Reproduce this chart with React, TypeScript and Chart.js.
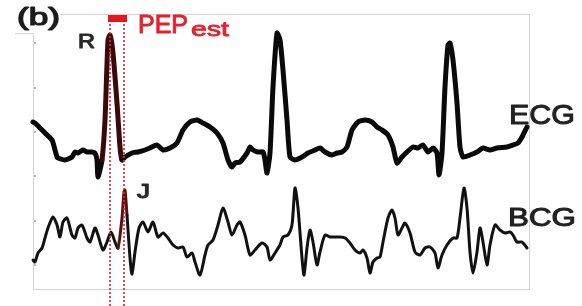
import React, { useEffect, useRef } from "react";
import { Chart, registerables } from "chart.js";
Chart.register(...registerables);

// ECG trace (time in samples, amplitude in a.u.)
const ecgTime = [0,2,12,19,22,24,25,32,39,42,45,50,54,59,62,64,65,69,72,75,77,80,84,87,89,92,99,105,112,117,124,130,137,144,150,157,164,170,177,184,190,195,199,202,207,214,217,220,225,230,232,234,237,240,244,247,250,254,257,262,269,275,282,287,292,299,304,309,314,319,325,332,339,344,349,355,360,364,369,374,380,385,390,395,400,404,406,409,412,415,417,420,424,427,430,437,444,450,457,464,474,480,485,489,494];
const ecgValue = [168,167,157,150,140,133,132,130,133,138,137,140,138,138,137,130,113,130,170,250,255,237,187,143,130,133,137,138,140,142,145,140,142,147,160,168,170,167,163,157,147,130,123,127,128,137,143,140,138,138,130,117,137,203,257,250,220,170,133,130,133,137,140,142,138,135,137,138,143,160,168,170,168,163,160,155,143,127,133,138,143,142,145,138,142,137,115,137,203,245,247,230,187,143,133,135,138,142,140,142,143,145,147,153,163];

// BCG trace
const bcgTime = [0,2,5,9,12,15,20,24,27,30,34,39,42,45,49,54,57,62,65,70,74,78,82,85,89,91,92,94,97,99,102,106,110,115,120,125,130,135,140,145,150,154,159,162,167,172,175,180,185,190,195,199,204,207,212,217,222,229,234,237,242,247,250,255,259,262,265,269,271,274,277,280,284,287,292,297,302,307,312,317,322,327,330,334,337,340,344,347,350,355,359,362,365,369,372,377,382,387,392,397,402,405,409,414,420,424,427,431,434,437,440,444,447,450,454,457,462,467,472,477,480,484,489,494];
const bcgValue = [30,28,37,42,52,62,73,65,53,68,72,55,52,62,65,52,48,62,55,40,48,58,48,42,72,98,100,75,32,16,38,62,68,58,68,53,57,52,45,42,43,33,37,28,15,35,45,50,65,82,68,55,65,68,55,35,40,47,43,30,37,45,53,55,65,102,82,32,15,42,60,48,25,38,55,53,53,53,52,47,40,37,40,32,17,28,32,33,48,72,80,72,55,62,67,57,38,35,42,43,37,22,35,45,52,52,72,102,82,38,17,38,62,48,25,45,65,60,57,58,55,48,48,42];

// PEP estimate markers: R peak time and J peak time
const rPeakTime = 77;
const jPeakTime = 91;

// faint tick marks on left border (a.u.)
const leftTicks = [247, 202, 158, 114, 69, 25];

const FONT = '"Liberation Sans", Arial, sans-serif';

function drawLabel(ctx: CanvasRenderingContext2D, text: string, left: number, baseline: number, size: number, width: number, color: string, thick: number) {
  ctx.save();
  ctx.font = `${size}px ${FONT}`;
  const w = ctx.measureText(text).width;
  ctx.translate(left, baseline);
  ctx.scale(width / w, 1);
  ctx.fillStyle = color;
  ctx.strokeStyle = color;
  ctx.lineWidth = thick;
  ctx.lineJoin = "round";
  ctx.textBaseline = "alphabetic";
  ctx.textAlign = "left";
  ctx.fillText(text, 0, 0);
  if (thick > 0) ctx.strokeText(text, 0, 0);
  ctx.restore();
}

const framePlugin = {
  id: "frame",
  beforeDatasetsDraw(chart: any) {
    const ctx = chart.ctx;
    const { left, right, top, bottom } = chart.chartArea;
    ctx.save();
    ctx.strokeStyle = "#d4d4d4";
    ctx.lineWidth = 1;
    ctx.beginPath();
    ctx.moveTo(60, top + 0.5);
    ctx.lineTo(right - 0.5, top + 0.5);
    ctx.lineTo(right - 0.5, bottom - 0.5);
    ctx.lineTo(left + 0.5, bottom - 0.5);
    ctx.lineTo(left + 0.5, 33);
    ctx.moveTo(15, 33.5);
    ctx.lineTo(left + 0.5, 33.5);
    ctx.stroke();
    const ys = chart.scales.y;
    ctx.fillStyle = "#b8b8b8";
    leftTicks.forEach((v) => {
      const py = ys.getPixelForValue(v);
      ctx.fillRect(left + 1, py - 1, 2, 2);
    });
    ctx.restore();
  },
  afterDatasetsDraw(chart: any) {
    const ctx = chart.ctx;
    const xs = chart.scales.x;
    const x1 = xs.getPixelForValue(rPeakTime);
    const x2 = xs.getPixelForValue(jPeakTime);
    ctx.save();
    ctx.strokeStyle = "rgba(232,40,55,0.85)";
    ctx.lineWidth = 2;
    ctx.setLineDash([2, 2]);
    [x1, x2].forEach((x) => {
      ctx.beginPath();
      ctx.moveTo(x, 20);
      ctx.lineTo(x, chart.height);
      ctx.stroke();
    });
    ctx.setLineDash([]);
    ctx.fillStyle = "#e8141e";
    ctx.fillRect(x1 - 2, 15, x2 - x1 + 5, 7);
    ctx.restore();
  },
  afterDraw(chart: any) {
    const ctx = chart.ctx;
    drawLabel(ctx, "(b)", 17, 25, 23, 43, "#1c1c1c", 1.2);
    drawLabel(ctx, "R", 78, 48, 21, 17, "#2a2a2a", 1.2);
    drawLabel(ctx, "PEP", 138, 33, 25, 50, "#e8202a", 0.9);
    drawLabel(ctx, "est", 191, 36, 20, 38, "#e8202a", 0.8);
    drawLabel(ctx, "J", 137, 198, 21, 13, "#2a2a2a", 1.2);
    drawLabel(ctx, "ECG", 509, 124, 28, 66, "#222222", 1);
    drawLabel(ctx, "BCG", 508, 226, 25, 68, "#222222", 1);
  },
};

export default function App() {
  const ref = useRef<HTMLCanvasElement | null>(null);
  useEffect(() => {
    if (!ref.current) return;
    const ecgData = ecgTime.map((t, i) => ({ x: t, y: ecgValue[i] }));
    const bcgData = bcgTime.map((t, i) => ({ x: t, y: bcgValue[i] }));
    const chart = new Chart(ref.current, {
      type: "line",
      data: {
        datasets: [
          {
            label: "ECG",
            data: ecgData,
            borderColor: "#0a0a0a",
            borderWidth: 5,
            pointRadius: 0,
            tension: 0.2,
            borderJoinStyle: "round",
            borderCapStyle: "round",
            clip: false,
            segment: {
              borderColor: (c: any) =>
                c.p0.parsed.x >= 69 && c.p1.parsed.x <= 89 ? "#3a0a0a" : undefined,
            },
          } as any,
          {
            label: "BCG",
            data: bcgData,
            borderColor: "#111111",
            borderWidth: 3,
            pointRadius: 0,
            tension: 0.25,
            borderJoinStyle: "round",
            borderCapStyle: "round",
            clip: false,
            segment: {
              borderColor: (c: any) =>
                c.p0.parsed.x >= 85 && c.p1.parsed.x <= 94 ? "#5a1010" : undefined,
            },
          } as any,
        ],
      },
      options: {
        animation: false,
        responsive: false,
        maintainAspectRatio: false,
        layout: { padding: { left: 33, right: 52, top: 14, bottom: 16 } },
        plugins: { legend: { display: false }, tooltip: { enabled: false }, title: { display: false } },
        scales: {
          x: { type: "linear", min: 0, max: 497, display: false },
          y: { type: "linear", min: 0, max: 276, display: false },
        },
      },
      plugins: [framePlugin],
    });
    return () => chart.destroy();
  }, []);
  return (
    <div style={{ position: "fixed", left: 0, top: 0, width: 582, height: 306, background: "#ffffff" }}>
      <canvas ref={ref} width={582} height={306} style={{ width: 582, height: 306, display: "block" }} />
    </div>
  );
}
